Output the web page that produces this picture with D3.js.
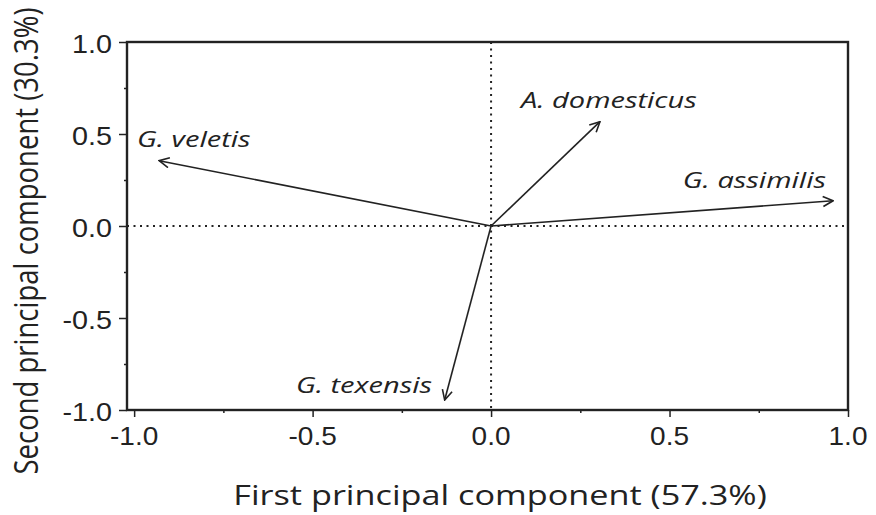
<!DOCTYPE html>
<html>
<head>
<meta charset="utf-8">
<script src="https://cdn.jsdelivr.net/npm/d3@7"></script>
<style>
  body { margin: 0; background: #fff; }
  svg { display: block; }
</style>
</head>
<body>
<svg width="876" height="515"></svg>
<script>
// ---- Dados (cargas dos dois primeiros componentes)
const species = ['G. veletis', 'A. domesticus', 'G. assimilis', 'G. texensis'];
const pc1 = [-0.93, 0.305, 0.958, -0.13];
const pc2 = [0.355, 0.567, 0.137, -0.946];
const majorTicks = [-1.0, -0.5, 0.0, 0.5, 1.0];
const minorTicks = [-0.75, -0.25, 0.25, 0.75];
const xTitle = 'First principal component (57.3%)';
const yTitle = 'Second principal component (30.3%)';

const svg = d3.select('svg');
const ink = '#222';
const plot = { left: 127, right: 848, top: 42, bottom: 410 };

// ---- Escalas
const mapX = d3.scaleLinear().domain([-1.02, 1.0]).range([plot.left, plot.right]);
const mapY = d3.scaleLinear().domain([-1.0, 1.0]).range([plot.bottom, plot.top]);

// texto esticado na horizontal como no original
function stretchedText(g, x, y, txt, opts) {
    const t = g.append('g').attr('transform', `translate(${x},${y}) scale(${opts.sx || 1},${opts.sy || 1})`);
    t.append('text')
        .attr('text-anchor', opts.anchor || 'start')
        .attr('font-family', opts.family)
        .attr('font-style', opts.italic ? 'italic' : 'normal')
        .attr('font-size', opts.size)
        .attr('fill', ink)
        .text(txt);
    return t;
}

// ---- Linhas pontilhadas no zero
svg.append('line')
    .attr('x1', mapX(0)).attr('x2', mapX(0))
    .attr('y1', plot.top).attr('y2', plot.bottom)
    .attr('stroke', ink).attr('stroke-width', 2).attr('stroke-dasharray', '2,4.5');
svg.append('line')
    .attr('x1', plot.left).attr('x2', plot.right)
    .attr('y1', mapY(0)).attr('y2', mapY(0))
    .attr('stroke', ink).attr('stroke-width', 2).attr('stroke-dasharray', '2,4.5');

// ---- Eixos
const fmt = v => d3.format('.1f')(v).replace('\u2212', '-');
const gx = svg.append('g').attr('transform', `translate(0, ${plot.bottom})`)
    .call(d3.axisBottom(mapX).tickValues(majorTicks).tickSize(7).tickFormat('').tickSizeOuter(0));
gx.append('g').call(d3.axisBottom(mapX).tickValues(minorTicks).tickSize(3).tickFormat('').tickSizeOuter(0));
const gy = svg.append('g').attr('transform', `translate(${plot.left}, 0)`)
    .call(d3.axisLeft(mapY).tickValues(majorTicks).tickSize(8).tickFormat('').tickSizeOuter(0));
gy.append('g').call(d3.axisLeft(mapY).tickValues(minorTicks).tickSize(3).tickFormat('').tickSizeOuter(0));
svg.selectAll('.domain').remove();
svg.selectAll('.tick line').attr('stroke', ink).attr('stroke-width', 1.5);

// rótulos dos ticks
majorTicks.forEach(v => {
    stretchedText(svg, mapX(v), plot.bottom + 35, fmt(v),
        { family: 'Liberation Sans, Arial, sans-serif', size: 25, sx: 1.12, anchor: 'middle' });
    stretchedText(svg, plot.left - 15, mapY(v) + 11, fmt(v),
        { family: 'Liberation Sans, Arial, sans-serif', size: 25, sx: 1.15, anchor: 'end' });
});

// ---- Moldura
svg.append('rect')
    .attr('x', plot.left).attr('y', plot.top)
    .attr('width', plot.right - plot.left).attr('height', plot.bottom - plot.top)
    .attr('fill', 'none').attr('stroke', ink).attr('stroke-width', 2.4);

// ---- Setas
svg.append('defs').append('marker')
    .attr('id', 'arrow')
    .attr('viewBox', '0 0 12 12')
    .attr('refX', 11).attr('refY', 6)
    .attr('markerWidth', 12).attr('markerHeight', 12)
    .attr('markerUnits', 'userSpaceOnUse')
    .attr('orient', 'auto')
    .append('path')
    .attr('d', 'M1,1 L11,6 L1,11')
    .attr('fill', 'none').attr('stroke', ink).attr('stroke-width', 1.6);

const loadings = species.map((s, i) => ({ name: s, x: pc1[i], y: pc2[i] }));
svg.append('g').selectAll('line').data(loadings).join('line')
    .attr('x1', mapX(0)).attr('y1', mapY(0))
    .attr('x2', d => mapX(d.x)).attr('y2', d => mapY(d.y))
    .attr('stroke', ink).attr('stroke-width', 1.6)
    .attr('marker-end', 'url(#arrow)');

// rótulos das espécies
const labelPos = {
    'G. veletis': [137, 147, 'start'],
    'A. domesticus': [521, 108, 'start'],
    'G. assimilis': [826, 188, 'end'],
    'G. texensis': [432, 393, 'end']
};
loadings.forEach(d => {
    const p = labelPos[d.name];
    stretchedText(svg, p[0], p[1], d.name,
        { family: 'Open Sans, sans-serif', italic: true, size: 22, sx: 1.32, anchor: p[2] });
});

// ---- Títulos dos eixos
stretchedText(svg, 500, 505, xTitle,
    { family: 'Open Sans, sans-serif', size: 27.5, sx: 1.245, anchor: 'middle' });
const yt = svg.append('g').attr('transform', `translate(38, 241) rotate(-90)`);
stretchedText(yt, 0, 0, yTitle,
    { family: 'Open Sans, sans-serif', size: 27.5, sx: 1, sy: 1.2, anchor: 'middle' });
</script>
</body>
</html>
